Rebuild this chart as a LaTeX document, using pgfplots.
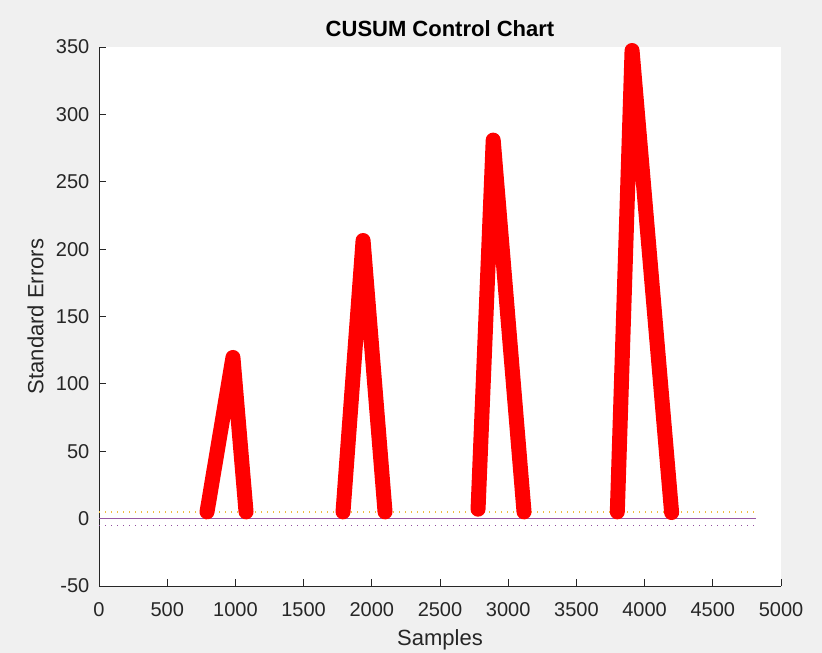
\documentclass[border=0pt]{standalone}
\usepackage{fontspec}
\setmainfont{Liberation Sans}
\usepackage{pgfplots}
\pgfplotsset{compat=1.18}

\definecolor{figbg}{RGB}{240,240,240}
\definecolor{axgray}{RGB}{38,38,38}
\definecolor{cusumred}{RGB}{255,0,0}
\definecolor{limorange}{RGB}{237,177,32}
\definecolor{limpurple}{RGB}{126,47,142}

\pgfplotsset{
  cusum/.style={cusumred, line width=15bp, line cap=round, line join=round,
    mark=o, mark size=5.5bp, mark options={line width=1bp, solid}},
}

\begin{document}
\begin{tikzpicture}
% figure background
\fill[figbg] (0bp,0bp) rectangle (822bp,653bp);
\useasboundingbox (0bp,0bp) rectangle (822bp,653bp);
\begin{axis}[
  at={(99bp,67bp)}, anchor=south west,
  scale only axis, width=682bp, height=539bp,
  xmin=0, xmax=5000, ymin=-50, ymax=350,
  axis x line=bottom, axis y line=left,
  axis line style={-, draw=axgray, line width=0.9bp},
  axis background/.style={fill=white},
  clip=false,
  tick align=inside, major tick length=6.5bp,
  tick style={draw=axgray, line width=0.9bp},
  /pgf/number format/assume math mode=true,
  xtick={0,500,1000,1500,2000,2500,3000,3500,4000,4500,5000},
  xticklabels={0,500,1000,1500,2000,2500,3000,3500,4000,4500,5000},
  ytick={-50,0,50,100,150,200,250,300,350},
  yticklabels={-50,0,50,100,150,200,250,300,350},
  xticklabel style={font=\fontsize{20bp}{24bp}\selectfont, text=axgray,
    anchor=base, inner sep=0pt, yshift=-30.5bp},
  yticklabel style={font=\fontsize{20bp}{24bp}\selectfont, text=axgray,
    anchor=east, inner sep=0pt, xshift=-9.5bp},
  title={CUSUM Control Chart},
  title style={font=\bfseries\fontsize{22bp}{26bp}\selectfont, text=black,
    at={(axis description cs:0.5,1.0204)}, anchor=base, inner sep=0pt,
    yshift=-6pt},
  xlabel={Samples},
  xlabel style={font=\fontsize{22bp}{26bp}\selectfont, text=axgray,
    at={(axis description cs:0.5,-0.1110)}, anchor=base, inner sep=0pt},
  ylabel={Standard Errors},
  ylabel style={font=\fontsize{22bp}{26bp}\selectfont, text=axgray,
    at={(axis description cs:-0.0814,0.5)}, anchor=base, inner sep=0pt},
]
% control limits and centre line
\addplot[limorange!85!white, line width=1.3bp, dash pattern=on 1.2bp off 4.8bp]
  coordinates {(0,5) (4815,5)};
\addplot[limpurple!80!white, line width=1.5bp]
  coordinates {(0,0) (4815,0)};
\addplot[limpurple!85!white, line width=1.5bp, dash pattern=on 1.4bp off 4.6bp]
  coordinates {(0,-5) (4815,-5)};

% upper CUSUM excursions
\addplot[cusum] coordinates {(792,5) (982,119.6) (1078,5)};
\addplot[cusum] coordinates {(1789,5) (1936,206.4) (2097,5)};
\addplot[cusum] coordinates {(2779,7) (2890,280.9) (3116,5)};
\addplot[cusum] coordinates {(3800,5) (3908,347.4) (4198,4.5)};
\end{axis}
\end{tikzpicture}
\end{document}
